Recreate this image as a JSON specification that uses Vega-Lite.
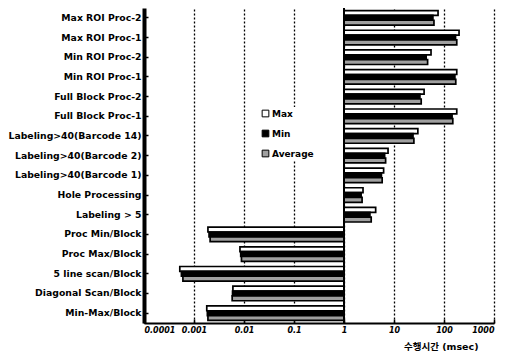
{
  "$schema": "https://vega.github.io/schema/vega-lite/v6.json",
  "width": 350,
  "height": 315,
  "autosize": {"type": "none"},
  "padding": {"left": 144, "top": 8, "right": 12, "bottom": 28},
  "background": "white",
  "config": {"view": {"stroke": null}, "font": "DejaVu Sans"},
  "data": {
    "values": [
      {"task": "Max ROI Proc-2", "stat": "Max", "value": 76},
      {"task": "Max ROI Proc-2", "stat": "Min", "value": 60},
      {"task": "Max ROI Proc-2", "stat": "Average", "value": 63},
      {"task": "Max ROI Proc-1", "stat": "Max", "value": 200},
      {"task": "Max ROI Proc-1", "stat": "Min", "value": 170},
      {"task": "Max ROI Proc-1", "stat": "Average", "value": 180},
      {"task": "Min ROI Proc-2", "stat": "Max", "value": 55},
      {"task": "Min ROI Proc-2", "stat": "Min", "value": 44},
      {"task": "Min ROI Proc-2", "stat": "Average", "value": 47},
      {"task": "Min ROI Proc-1", "stat": "Max", "value": 180},
      {"task": "Min ROI Proc-1", "stat": "Min", "value": 165},
      {"task": "Min ROI Proc-1", "stat": "Average", "value": 172},
      {"task": "Full Block Proc-2", "stat": "Max", "value": 40},
      {"task": "Full Block Proc-2", "stat": "Min", "value": 33},
      {"task": "Full Block Proc-2", "stat": "Average", "value": 35},
      {"task": "Full Block Proc-1", "stat": "Max", "value": 180},
      {"task": "Full Block Proc-1", "stat": "Min", "value": 145},
      {"task": "Full Block Proc-1", "stat": "Average", "value": 150},
      {"task": "Labeling>40(Barcode 14)", "stat": "Max", "value": 30},
      {"task": "Labeling>40(Barcode 14)", "stat": "Min", "value": 24},
      {"task": "Labeling>40(Barcode 14)", "stat": "Average", "value": 25},
      {"task": "Labeling>40(Barcode 2)", "stat": "Max", "value": 7.6},
      {"task": "Labeling>40(Barcode 2)", "stat": "Min", "value": 6.5},
      {"task": "Labeling>40(Barcode 2)", "stat": "Average", "value": 6.8},
      {"task": "Labeling>40(Barcode 1)", "stat": "Max", "value": 6.2},
      {"task": "Labeling>40(Barcode 1)", "stat": "Min", "value": 5.6},
      {"task": "Labeling>40(Barcode 1)", "stat": "Average", "value": 5.8},
      {"task": "Hole Processing", "stat": "Max", "value": 2.4},
      {"task": "Hole Processing", "stat": "Min", "value": 2.2},
      {"task": "Hole Processing", "stat": "Average", "value": 2.3},
      {"task": "Labeling > 5", "stat": "Max", "value": 4.3},
      {"task": "Labeling > 5", "stat": "Min", "value": 3.3},
      {"task": "Labeling > 5", "stat": "Average", "value": 3.5},
      {"task": "Proc Min/Block", "stat": "Max", "value": 0.0019},
      {"task": "Proc Min/Block", "stat": "Min", "value": 0.002},
      {"task": "Proc Min/Block", "stat": "Average", "value": 0.0021},
      {"task": "Proc Max/Block", "stat": "Max", "value": 0.0083},
      {"task": "Proc Max/Block", "stat": "Min", "value": 0.0086},
      {"task": "Proc Max/Block", "stat": "Average", "value": 0.0089},
      {"task": "5 line scan/Block", "stat": "Max", "value": 0.00052},
      {"task": "5 line scan/Block", "stat": "Min", "value": 0.00056},
      {"task": "5 line scan/Block", "stat": "Average", "value": 0.0006},
      {"task": "Diagonal Scan/Block", "stat": "Max", "value": 0.006},
      {"task": "Diagonal Scan/Block", "stat": "Min", "value": 0.0059},
      {"task": "Diagonal Scan/Block", "stat": "Average", "value": 0.0058},
      {"task": "Min-Max/Block", "stat": "Max", "value": 0.0018},
      {"task": "Min-Max/Block", "stat": "Min", "value": 0.00185},
      {"task": "Min-Max/Block", "stat": "Average", "value": 0.0019}
    ]
  },
  "layer": [
    {
      "mark": {"type": "bar", "stroke": "black", "strokeWidth": 1.7},
      "encoding": {
        "y": {
          "field": "task", "type": "nominal", "sort": null,
          "scale": {"paddingInner": 0.26, "paddingOuter": 0.13},
          "axis": {
            "title": null, "domainColor": "black", "domainWidth": 4,
            "ticks": true, "tickColor": "black", "tickSize": -4, "tickWidth": 1.5,
            "labelFont": "DejaVu Sans", "labelFontWeight": "bold", "labelFontSize": 9.3,
            "labelColor": "black", "labelPadding": 7, "grid": false
          }
        },
        "yOffset": {"field": "stat", "type": "nominal", "sort": ["Max", "Min", "Average"]},
        "x": {
          "field": "value", "type": "quantitative",
          "scale": {"type": "log", "domain": [0.0001, 1000], "nice": false},
          "axis": {
            "title": "수행시간 (msec)",
            "values": [0.0001, 0.001, 0.01, 0.1, 1, 10, 100, 1000],
            "format": "~g",
            "grid": true, "gridColor": "black", "gridDash": [2, 2], "gridWidth": 1.3, "gridOpacity": 1,
            "domainColor": "black", "domainWidth": 2,
            "tickColor": "black", "tickSize": -4, "tickWidth": 1.5,
            "labelFont": "DejaVu Sans", "labelFontStyle": "italic", "labelFontWeight": "bold",
            "labelFontSize": 8, "labelColor": "black", "labelPadding": 7,
            "titleFont": "DejaVu Sans, Noto Sans CJK KR", "titleFontSize": 9.5,
            "titleFontWeight": "bold", "titleColor": "black",
            "titleAlign": "right", "titleX": 334, "titleY": 26, "titleBaseline": "alphabetic"
          }
        },
        "x2": {"datum": 1},
        "color": {
          "field": "stat", "type": "nominal",
          "scale": {"domain": ["Max", "Min", "Average"], "range": ["white", "black", "#a0a0a0"]},
          "legend": {
            "title": null, "orient": "none", "legendX": 115, "legendY": 99,
            "symbolType": "square", "symbolSize": 45,
            "symbolStrokeColor": "black", "symbolStrokeWidth": 1,
            "labelFont": "DejaVu Sans", "labelFontWeight": "bold", "labelFontSize": 9,
            "labelColor": "black", "rowPadding": 9, "fillColor": "white", "padding": 2, "labelOffset": 2
          }
        }
      }
    },
    {
      "data": {"values": [{"v": 1}]},
      "mark": {"type": "rule", "color": "black", "strokeWidth": 2},
      "encoding": {"x": {"datum": 1}}
    }
  ]
}
